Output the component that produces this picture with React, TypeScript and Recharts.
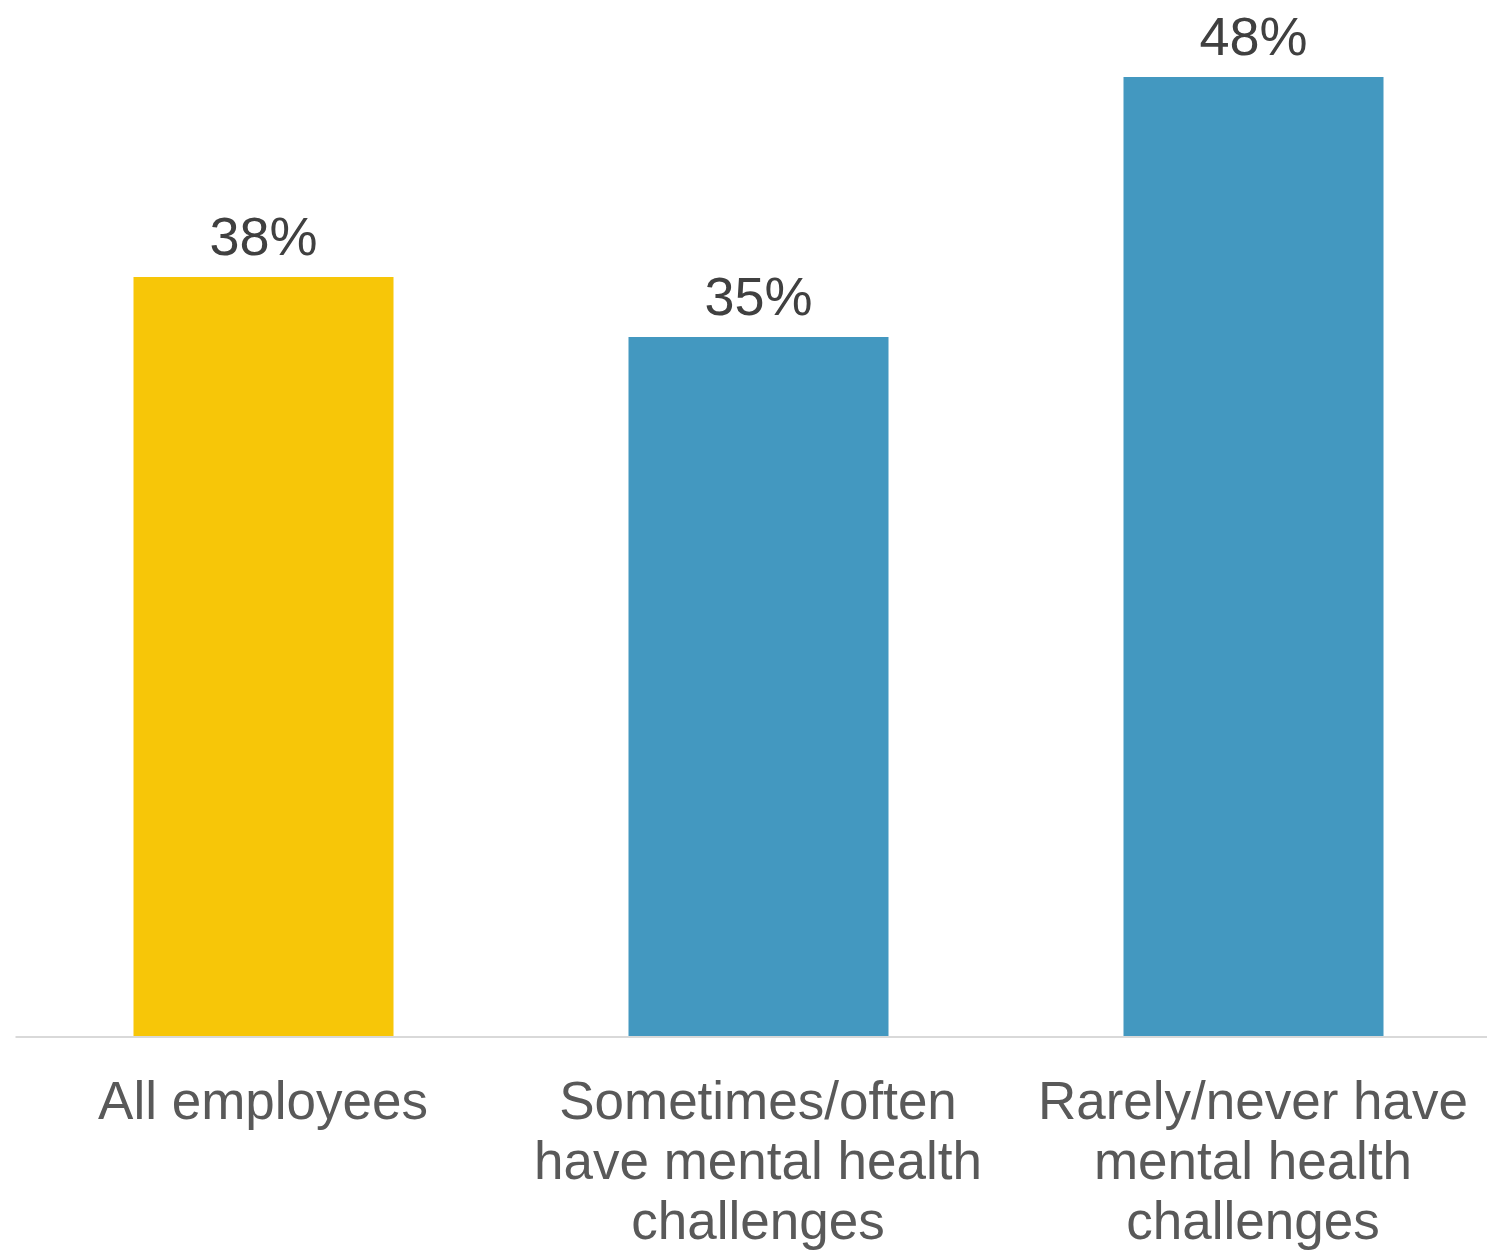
import { BarChart, Bar, XAxis, YAxis, Cell, LabelList } from 'recharts'

const categories = ['All employees', 'Sometimes/often have mental health challenges', 'Rarely/never have mental health challenges']
const tickLines = [
  ['All employees'],
  ['Sometimes/often', 'have mental health', 'challenges'],
  ['Rarely/never have', 'mental health', 'challenges'],
]
const values = [38, 35, 48]
const barColors = ['#F7C608', '#4398C0', '#4398C0']

const data = categories.map((name, i) => ({ name, value: values[i] }))

const FONT = '"Liberation Sans", Arial, sans-serif'

function CategoryTick({ x, y, index }: any) {
  const lines = tickLines[index] || []
  return (
    <text x={x} y={y} textAnchor="middle" fill="#595959" fontSize={53} fontFamily={FONT}>
      {lines.map((line, i) => (
        <tspan key={i} x={x} dy={i === 0 ? 82 : 60}>
          {line}
        </tspan>
      ))}
    </text>
  )
}

export default function App() {
  return (
    <div
      style={{
        position: 'absolute',
        left: 0,
        top: 0,
        width: 1487,
        height: 1252,
        overflow: 'hidden',
        background: '#fff',
      }}
    >
      <BarChart
        width={1510}
        height={1252}
        data={data}
        margin={{ top: 37, right: 9.5, left: 15.5, bottom: 15 }}
        barSize={260}
      >
        <YAxis hide domain={[0, 50]} />
        <XAxis
          dataKey="name"
          height={200}
          interval={0}
          tickLine={false}
          tickSize={0}
          tickMargin={0}
          axisLine={{ stroke: '#d9d9d9', strokeWidth: 2 }}
          tick={<CategoryTick />}
        />
        <Bar dataKey="value" isAnimationActive={false}>
          {data.map((d, i) => (
            <Cell key={d.name} fill={barColors[i]} />
          ))}
          <LabelList
            dataKey="value"
            position="top"
            offset={22}
            formatter={(v: any) => `${v}%`}
            fill="#404040"
            fontSize={54}
            fontFamily={FONT}
          />
        </Bar>
      </BarChart>
    </div>
  )
}
